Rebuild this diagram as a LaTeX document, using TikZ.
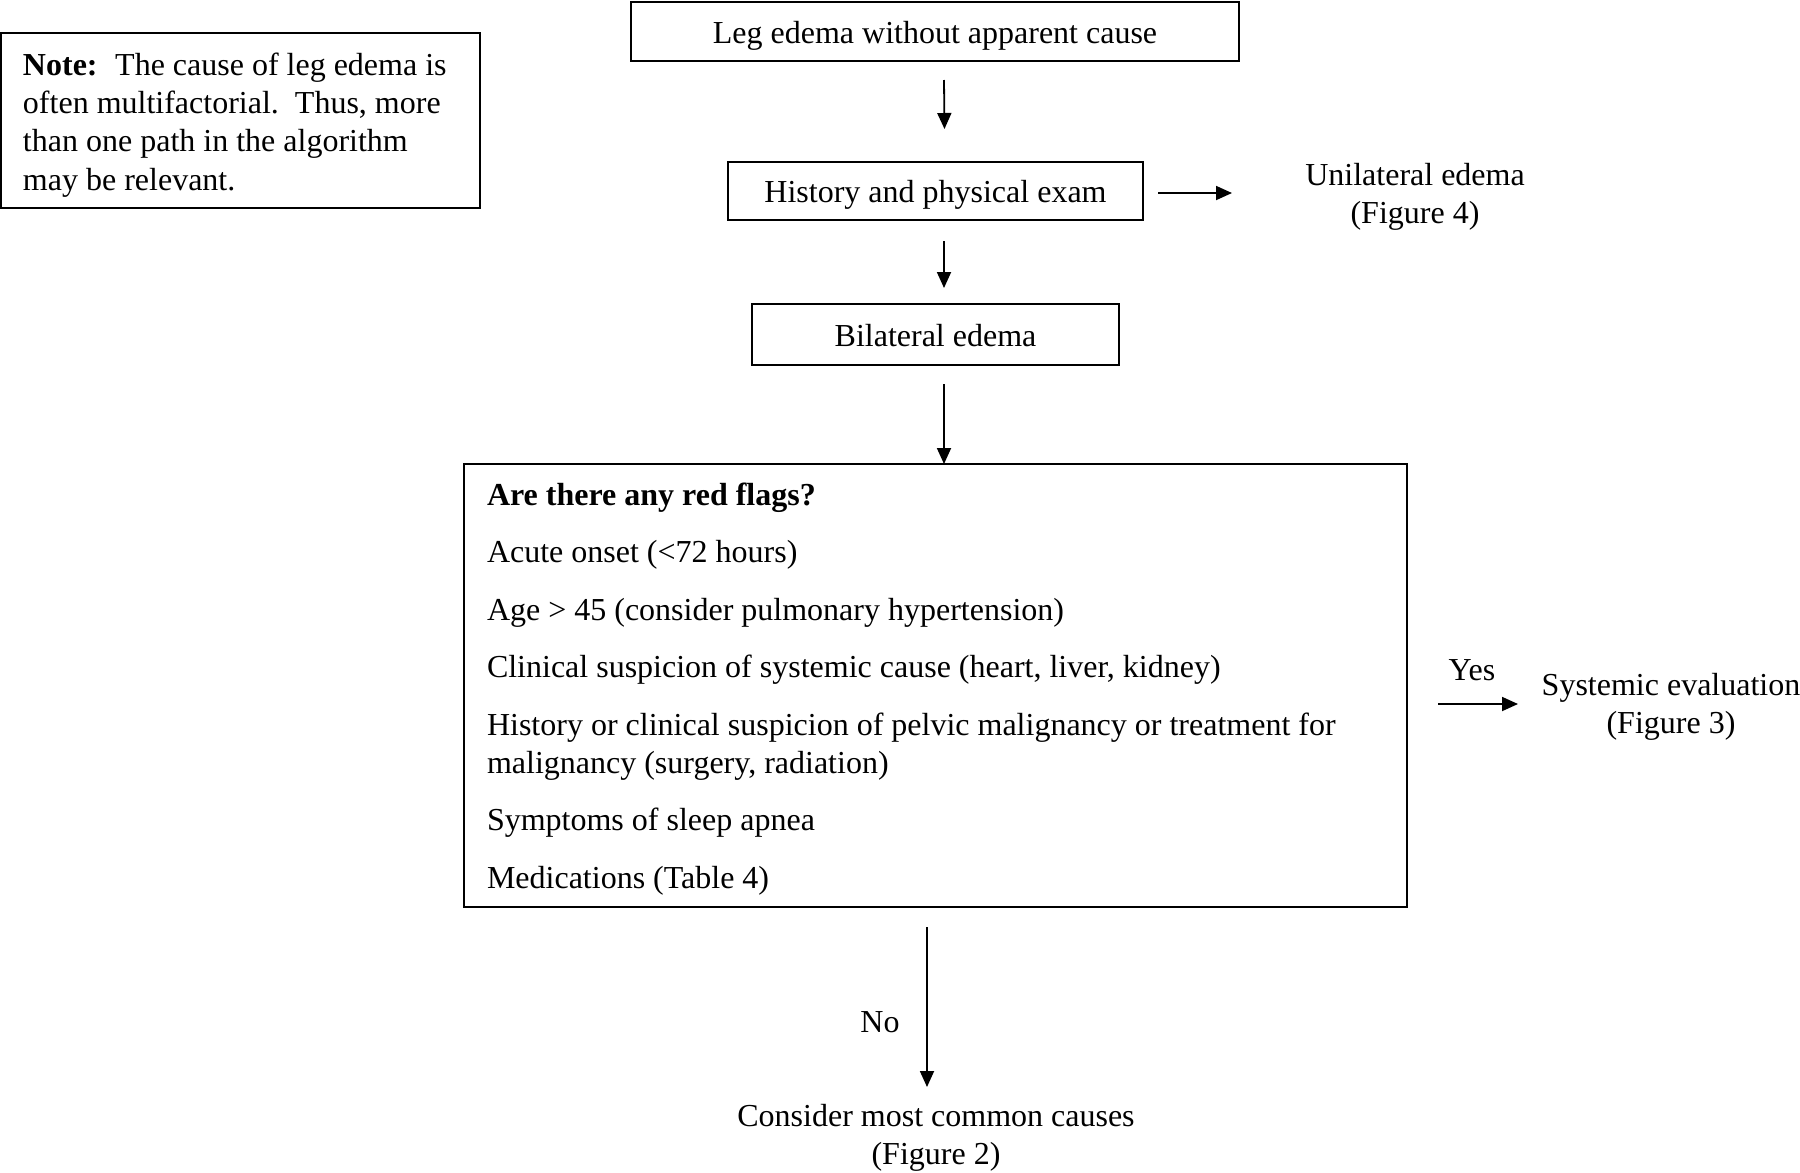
\documentclass[tikz,border=0pt]{standalone}
\usepackage{fontspec}
\setmainfont{Liberation Serif}
\usetikzlibrary{arrows.meta,calc}
\begin{document}
\begin{tikzpicture}[x=1pt,y=-1pt,
  txt/.style={font=\fontsize{32}{37.5}\selectfont, inner sep=0pt, outer sep=0pt},
  boxed/.style={draw, line width=2pt, inner sep=0pt, outer sep=0pt, font=\fontsize{32}{38}\selectfont, text height=29pt, text depth=6pt},
  frame/.style={draw, line width=2pt, inner sep=0pt, outer sep=0pt},
  arr/.style={line width=1.8pt, -{Triangle[length=16pt,width=14pt]}}]
\useasboundingbox (0,0) rectangle (1800,1173);

% note box
\node[frame, anchor=north west, minimum width=479pt, minimum height=175pt] (note) at (1,33) {};
\node[txt, anchor=base west] (n1) at (23,75) {\textbf{Note:}\hspace{0.55em}The cause of leg edema is};
\node[txt, anchor=base west] (n2) at (23,113.3) {often multifactorial.\hspace{0.5em}Thus, more};
\node[txt, anchor=base west] (n3) at (23,151.6) {than one path in the algorithm};
\node[txt, anchor=base west] (n4) at (23,190) {may be relevant.};

% main boxes
\node[boxed, minimum width=608pt, minimum height=59pt] (start) at (935,31.5) {Leg edema without apparent cause};
\node[boxed, minimum width=415pt, minimum height=58pt] (hist) at (935.5,191) {History and physical exam};
\node[boxed, minimum width=367pt, minimum height=61pt] (bilat) at (935.5,334.5) {Bilateral edema};
\node[frame, anchor=north west, minimum width=943pt, minimum height=443pt] (flags) at (464,464) {};

% red flag lines
\node[txt, anchor=base west] (f0) at (487,505) {\textbf{Are there any red flags?}};
\node[txt, anchor=base west] (f1) at (487,562.5) {Acute onset (<72 hours)};
\node[txt, anchor=base west] (f2) at (487,620) {Age > 45 (consider pulmonary hypertension)};
\node[txt, anchor=base west] (f3) at (487,677.5) {Clinical suspicion of systemic cause (heart, liver, kidney)};
\node[txt, anchor=base west] (f4) at (487,735) {History or clinical suspicion of pelvic malignancy or treatment for};
\node[txt, anchor=base west] (f5) at (487,773) {malignancy (surgery, radiation)};
\node[txt, anchor=base west] (f6) at (487,830.5) {Symptoms of sleep apnea};
\node[txt, anchor=base west] (f7) at (487,888) {Medications (Table 4)};

% outcome texts (base = last line)
\node[txt, anchor=base, align=center] (uni) at (1415,223) {Unilateral edema\\(Figure 4)};
\node[txt, anchor=base] (yes) at (1472,680) {Yes};
\node[txt, anchor=base, align=center] (sys) at (1671,733) {Systemic evaluation\\(Figure 3)};
\node[txt, anchor=base] (no) at (880,1032) {No};
\node[txt, anchor=base, align=center] (common) at (936,1164) {Consider most common causes\\(Figure 2)};

% arrow end points
\coordinate (uniarr) at (1232,193);
\coordinate (sysarr) at (1518,704);
\coordinate (noarr) at (927,1087);

% connectors
\draw[arr] ($(start.south)+(9,19)$) -- ($(hist.north)+(9,-33)$);
\draw[arr] ($(hist.south)+(8.5,21)$) -- ($(bilat.north)+(8.5,-16)$);
\draw[arr] ($(bilat.south)+(8.5,19)$) -- ($(flags.north)+(8.5,0)$);
\draw[arr] ($(hist.east)+(15,2)$) -- (uniarr);
\draw[arr] ($(flags.east)+(31,18.5)$) -- (sysarr);
\draw[arr] ($(flags.south)+(-8.5,20)$) -- (noarr);
\end{tikzpicture}
\end{document}
